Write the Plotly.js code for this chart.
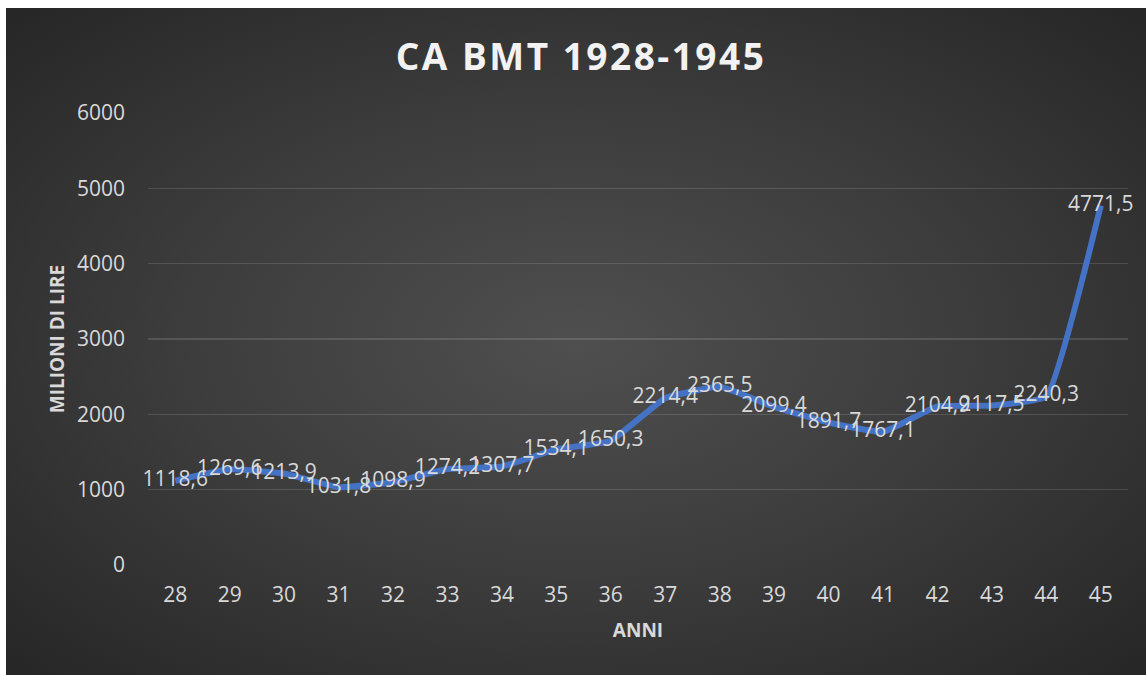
<!DOCTYPE html>
<html>
<head>
<meta charset="utf-8">
<script src="https://cdn.plot.ly/plotly-3.0.1.min.js"></script>
<style>
  html, body { margin: 0; padding: 0; background: #ffffff; }
  #wrap { position: relative; width: 1146px; height: 675px; overflow: hidden; }
  #bg { position: absolute; left: 6px; top: 8px; width: 1140px; height: 667px;
        background: radial-gradient(ellipse farthest-corner at 50% 50%, #4f4f4f 0%, #3c3c3c 50%, #262626 100%); }
  #chart { position: absolute; left: 0; top: 0; width: 1146px; height: 675px; }
  #chart .gtitle { letter-spacing: 2.5px; }
</style>
</head>
<body>
<div id="wrap">
  <div id="bg"></div>
  <div id="chart"></div>
</div>
<script>
const years = ["28","29","30","31","32","33","34","35","36","37","38","39","40","41","42","43","44","45"];
const values = [1118.6, 1269.6, 1213.9, 1031.8, 1098.9, 1274.2, 1307.7, 1534.1, 1650.3, 2214.4, 2365.5, 2099.4, 1891.7, 1767.1, 2104.9, 2117.5, 2240.3, 4771.5];
const yTicks = [0, 1000, 2000, 3000, 4000, 5000, 6000];

const font = "'Open Sans', 'Noto Sans', sans-serif";
const txtColor = "#d9d9d9";

const trace = {
  type: "scatter",
  mode: "lines+text",
  x: years,
  y: values,
  line: { color: "#4472C4", width: 6, shape: "spline", smoothing: 0.35 },
  texttemplate: "%{y:.1f}",
  textposition: "middle center",
  textfont: { family: font, size: 21, color: txtColor },
  hoverinfo: "skip",
  cliponaxis: false
};

const layout = {
  width: 1146,
  height: 675,
  paper_bgcolor: "rgba(0,0,0,0)",
  plot_bgcolor: "rgba(0,0,0,0)",
  separators: ",.",
  margin: { l: 148, r: 18, t: 113, b: 110 },
  showlegend: false,
  title: {
    text: "<b>CA BMT 1928-1945</b>",
    font: { family: font, size: 37, color: "#f2f2f2" },
    x: 581 / 1146, xanchor: "center",
    y: 1 - 57 / 675, yanchor: "middle",
    xref: "container", yref: "container"
  },
  xaxis: {
    type: "category",
    range: [-0.5, 17.5],
    showgrid: false,
    showline: false,
    zeroline: false,
    ticks: "",
    ticklabelstandoff: 15,
    tickfont: { family: font, size: 21, color: txtColor },
    title: { text: "<b>ANNI</b>", font: { family: font, size: 19, color: txtColor }, standoff: 16 }
  },
  yaxis: {
    range: [0, 6000],
    tickvals: yTicks,
    ticktext: yTicks.map(String),
    showgrid: true,
    gridcolor: "rgba(255,255,255,0.13)",
    gridwidth: 1.3,
    zeroline: false,
    showline: false,
    ticks: "",
    ticklabelstandoff: 22,
    tickfont: { family: font, size: 21, color: txtColor },
    title: { text: "<b>MILIONI DI LIRE</b>", font: { family: font, size: 19, color: txtColor }, standoff: 7 }
  }
};

Plotly.newPlot("chart", [trace], layout, { displayModeBar: false, staticPlot: true });
</script>
</body>
</html>
